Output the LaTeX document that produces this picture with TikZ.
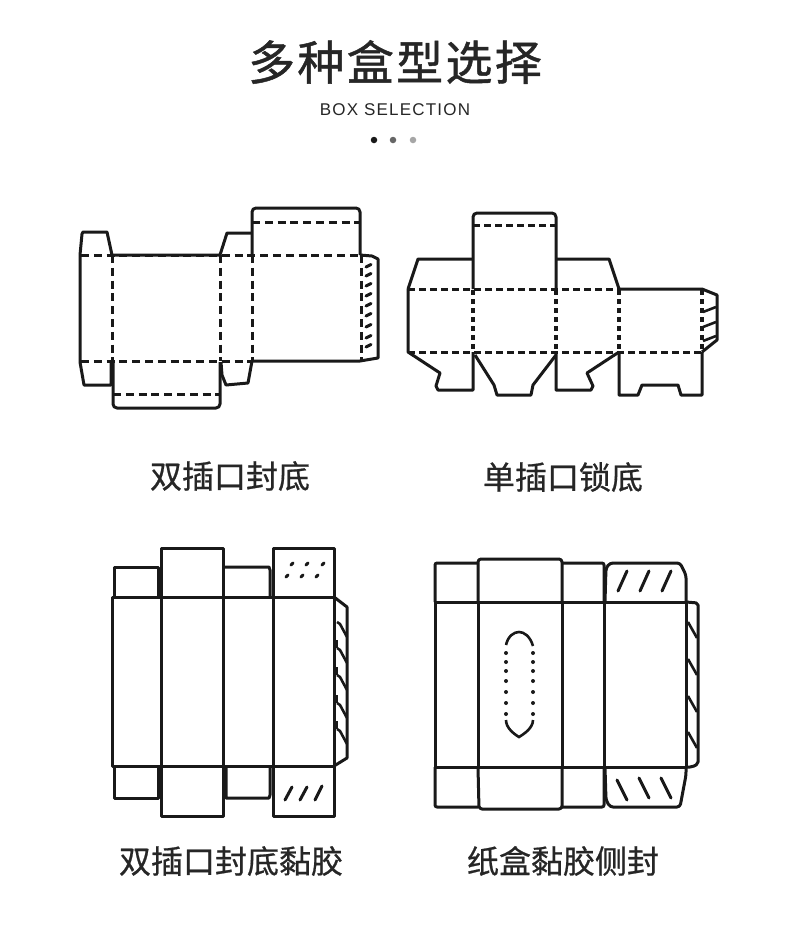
\documentclass[tikz,border=0pt]{standalone}
\usepackage{fontspec}
\setmainfont{Liberation Sans}
\newfontfamily\cjk[FakeBold=0.6]{Noto Sans CJK SC}
\newfontfamily\cjktitle[LetterSpace=5,FakeBold=1]{Noto Sans CJK SC}
\newfontfamily\latinspaced[LetterSpace=7]{Liberation Sans}
\begin{document}
\begin{tikzpicture}[x=1pt,y=-1pt,
  cut line/.style={draw=black!90,line width=3pt,line join=round},
  fold line/.style={draw=black!90,line width=3pt,dash pattern=on 8pt off 4.8pt},
  small fold/.style={draw=black!90,line width=3pt,dash pattern=on 7pt off 4pt},
  dot fold/.style={draw=black!90,line width=3.2pt,dash pattern=on 4.5pt off 4.5pt},
  glue mark/.style={draw=black!90,line width=3pt,line cap=round},
  tooth line/.style={draw=black!90,line width=2.6pt},
  box label/.style={font=\cjk\fontsize{32}{36}\selectfont,text=black!85,inner sep=0pt},
  page dot/.style={circle,inner sep=0pt,minimum size=6.5pt}]

  \useasboundingbox (0,0) rectangle (790,930);
  \fill[white] (0,0) rectangle (790,930);

  \node[font=\cjktitle\fontsize{47}{50}\selectfont,text=black!85,inner sep=0pt] (title) at (395,62) {多种盒型选择};
  \node[font=\latinspaced\fontsize{17}{20}\selectfont,text=black!85,inner sep=0pt] (subtitle) at (395,110) {BOX SELECTION};
  \node[page dot,fill=black!90] (dot1) at (374,140) {};
  \node[page dot,fill=black!60] (dot2) at (393,140) {};
  \node[page dot,fill=black!35] (dot3) at (413,140) {};

  \node[box label] (label1) at (230,476) {双插口封底};
  \node[box label] (label2) at (563,477) {单插口锁底};
  \node[box label] (label3) at (231,861) {双插口封底黏胶};
  \node[box label] (label4) at (563,861) {纸盒黏胶侧封};

  % box 1
  \draw[cut line] (80,255) -- (80,362) -- (84,385) -- (111,385) -- (111,362);
  \draw[cut line] (80,255) -- (82,234) -- (83,232) -- (107,232) -- (112,255) -- (220,255)
    -- (227,233) -- (252,233);
  \draw[cut line,rounded corners=4pt] (252,255) -- (252,208) -- (360,208) -- (360,255);
  \draw[cut line] (360,255) -- (372,256) -- (378,259) -- (378,358) -- (360,361) -- (252,361)
    -- (248,383) -- (226,385) -- (222,375) -- (221,362);
  \draw[cut line,rounded corners=4pt] (113,362) -- (113,408) -- (220,408) -- (220,362);
  \draw[fold line] (81,255) -- (360,255);
  \draw[fold line] (81,361) -- (252,361);
  \draw[fold line] (252,222) -- (360,222);
  \draw[fold line] (113,394) -- (220,394);
  \draw[fold line] (112,255) -- (112,361);
  \draw[fold line] (220,255) -- (220,361);
  \draw[fold line] (252,255) -- (252,361);
  \draw[fold line] (361,255) -- (361,361);
  \foreach \y in {267,276,286,296,306,316,327,338,347}
    \draw[glue mark] (366,\y) -- (371,\y-2.5);

  % box 2
  \draw[cut line] (408,289) -- (418,259) -- (473,259);
  \draw[cut line,rounded corners=4pt] (473,289) -- (473,213) -- (556,213) -- (556,289);
  \draw[cut line] (556,259) -- (609,259) -- (619,289) -- (702,289) -- (717,295) -- (717,340) -- (702,352);
  \draw[cut line] (408,289) -- (408,352) -- (440,373) -- (436,386) -- (438,390) -- (473,390) -- (473,352);
  \draw[cut line] (475,355) -- (494,385) -- (497,395) -- (531,395) -- (533,385) -- (556,355);
  \draw[cut line] (556,352) -- (556,390) -- (591,390) -- (593,386) -- (587,373) -- (619,352);
  \draw[cut line] (619,352) -- (619,395) -- (638,395) -- (642,385) -- (678,385) -- (681,395) -- (702,395) -- (702,352);
  \draw[small fold] (408,289) -- (619,289);
  \draw[small fold] (408,352) -- (702,352);
  \draw[small fold] (473,225) -- (556,225);
  \foreach \x in {473,556,619,702}
    \draw[dot fold] (\x,290) -- (\x,352);
  \draw[tooth line] (703,312) -- (716,307);
  \draw[tooth line] (703,327) -- (716,322);
  \draw[tooth line] (703,341) -- (716,336);

  % box 3
  \draw[cut line] (114,597) -- (114,567) -- (158,567) -- (158,597);
  \draw[cut line] (161,597) -- (161,548) -- (223,548) -- (223,597);
  \draw[cut line] (224,567) -- (269,567) -- (270,570) -- (270,597);
  \draw[cut line] (273,597) -- (273,548) -- (334,548) -- (334,597);
  \draw[cut line] (112,597) rectangle (334,766);
  \foreach \x in {161,223,273}
    \draw[cut line] (\x,597) -- (\x,766);
  \draw[cut line] (334,597) -- (347,607) -- (347,758) -- (334,766);
  \draw[cut line] (114,766) -- (114,798) -- (158,798) -- (158,766);
  \draw[cut line] (161,766) -- (161,816) -- (223,816) -- (223,766);
  \draw[cut line] (226,766) -- (226,798) -- (269,798) -- (270,795) -- (270,766);
  \draw[cut line] (273,766) -- (273,816) -- (334,816) -- (334,766);
  \foreach \y in {622,648,675,703,729}
    \draw[tooth line] (337,\y) -- (340,\y+2) -- (347,\y+15);
  \foreach \y in {648,675,703,729}
    \draw[tooth line] (337,\y) -- (337,\y-8);
  \foreach \x/\y in {292/564,307/564,323/564,287/576,302/576,317/576}
    \draw[glue mark] (\x-1,\y+1) -- (\x+1,\y-1);
  \draw[glue mark] (285,800) -- (292,787);
  \draw[glue mark] (300,800) -- (307,787);
  \draw[glue mark] (315,800) -- (322,786);

  % box 4
  \draw[cut line,rounded corners=2pt] (435,602) -- (435,563) -- (478,563);
  \draw[cut line,rounded corners=3pt] (478,602) -- (478,559) -- (562,559) -- (562,602);
  \draw[cut line,rounded corners=2pt] (562,563) -- (604,563) -- (604,602);
  \draw[cut line,rounded corners=3pt] (605,602) -- (606,568) -- (610,563) -- (680,563) -- (686,575) -- (686,602);
  \draw[cut line] (435,602) rectangle (686,767);
  \foreach \x in {478,562,604}
    \draw[cut line] (\x,602) -- (\x,767);
  \draw[cut line,rounded corners=2pt] (435,767) -- (435,807) -- (478,807);
  \draw[cut line,rounded corners=3pt] (478,767) -- (479,809) -- (562,809) -- (562,767);
  \draw[cut line,rounded corners=2pt] (562,807) -- (604,807) -- (604,767);
  \draw[cut line,rounded corners=3pt] (605,767) -- (606,800) -- (610,807) -- (680,807) -- (686,775) -- (686,767);
  \draw[cut line,rounded corners=2pt] (686,602) -- (698,603) -- (698,764) -- (692,767) -- (686,767);
  \foreach \y in {622,659,696,732}
    \draw[tooth line] (688,\y) -- (697,\y+16);
  \foreach \x/\y in {618/591,640/591,662/591}
    \draw[glue mark] (\x,\y) -- (\x+9,\y-20);
  \foreach \x/\y in {617/780,639/778,661/778}
    \draw[glue mark] (\x,\y) -- (\x+10,\y+20);
  \draw[tooth line] (506,645) .. controls (508,636) and (514,632) .. (519,632)
    .. controls (524,632) and (530,636) .. (533,646);
  \draw[tooth line] (506,720) .. controls (506,728) and (514,734) .. (519,737)
    .. controls (524,734) and (533,728) .. (533,720);
  \foreach \y in {653,662,671,681,692,703,714}{
    \fill[black!90] (506,\y) circle (2pt);
    \fill[black!90] (533,\y) circle (2pt);
  }
\end{tikzpicture}
\end{document}
